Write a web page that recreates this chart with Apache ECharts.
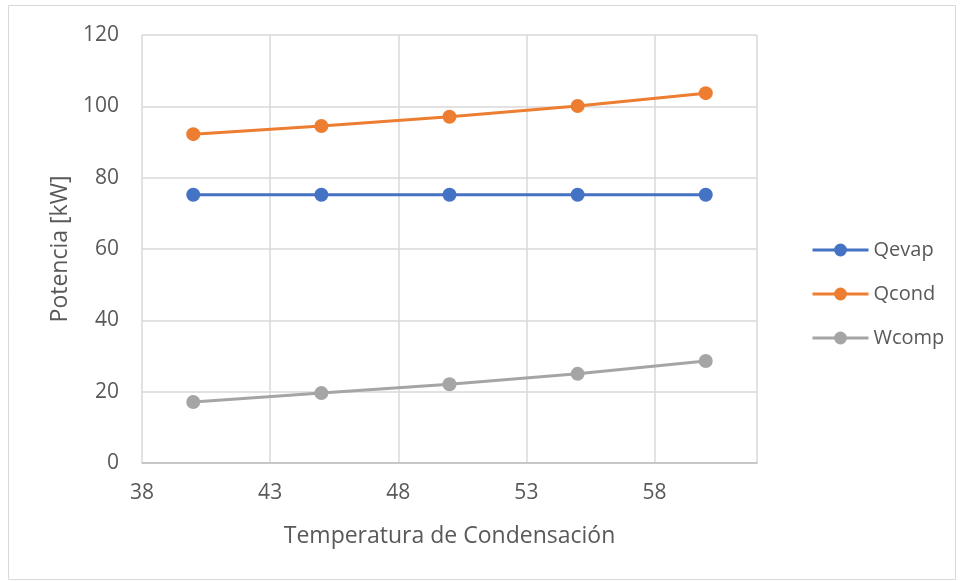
<!DOCTYPE html>
<html><head><meta charset="utf-8">
<script src="https://cdn.jsdelivr.net/npm/echarts@6/dist/echarts.min.js"></script>
<style>html,body{margin:0;padding:0;background:#fff}#c{width:960px;height:581px}</style>
</head><body><div id="c"></div>
<script>
const temps = [40, 45, 50, 55, 60];
const qevap = [75.2, 75.2, 75.2, 75.2, 75.2];
const qcond = [92.2, 94.5, 97.1, 100.1, 103.7];
const wcomp = [17.1, 19.6, 22.1, 25.0, 28.6];
const seriesNames = ['Qevap', 'Qcond', 'Wcomp'];
const colors = ['#4472C4', '#ED7D31', '#A5A5A5'];

const chart = echarts.init(document.getElementById('c'), null, {renderer: 'canvas'});
const font = '"Open Sans", sans-serif';
function mk(name, vals, color) {
  return {
    name, type: 'line', data: temps.map((t, i) => [t, vals[i]]),
    symbol: 'circle', symbolSize: 14,
    lineStyle: {color, width: 3}, itemStyle: {color},
    emphasis: {disabled: true}, animation: false
  };
}
chart.setOption({
  animation: false,
  textStyle: {fontFamily: font},
  graphic: [{type: 'rect', shape: {x: 8.5, y: 5.5, width: 947, height: 574},
    style: {fill: 'none', stroke: '#d9d9d9', lineWidth: 1}, silent: true}],
  grid: {left: 142, top: 35, width: 615, height: 428, containLabel: false},
  legend: {
    orient: 'vertical', left: 806, top: 235, itemGap: 24,
    itemWidth: 56, itemHeight: 16,
    lineStyle: {width: 3},
    textStyle: {color: '#595959', fontSize: 20, fontFamily: font},
    data: seriesNames
  },
  xAxis: {
    type: 'value', min: 38, max: 62, interval: 5,
    name: 'Temperatura de Condensación', nameLocation: 'middle', nameGap: 62,
    nameTextStyle: {color: '#595959', fontSize: 23, fontFamily: font},
    axisLine: {show: true, lineStyle: {color: '#bfbfbf', width: 1.5}},
    axisTick: {show: false},
    axisLabel: {color: '#595959', fontSize: 21, margin: 20, fontFamily: font,
      showMaxLabel: false},
    splitLine: {show: true, lineStyle: {color: '#d9d9d9', width: 1.5}}
  },
  yAxis: {
    type: 'value', min: 0, max: 120, interval: 20,
    name: 'Potencia [kW]', nameLocation: 'middle', nameGap: 70,
    nameTextStyle: {color: '#595959', fontSize: 23, fontFamily: font},
    axisLine: {show: false}, axisTick: {show: false},
    axisLabel: {color: '#595959', fontSize: 21, margin: 23, fontFamily: font},
    splitLine: {show: true, lineStyle: {color: '#d9d9d9', width: 1.5}}
  },
  series: [mk('Qevap', qevap, colors[0]), mk('Qcond', qcond, colors[1]), mk('Wcomp', wcomp, colors[2])]
});
</script></body></html>
